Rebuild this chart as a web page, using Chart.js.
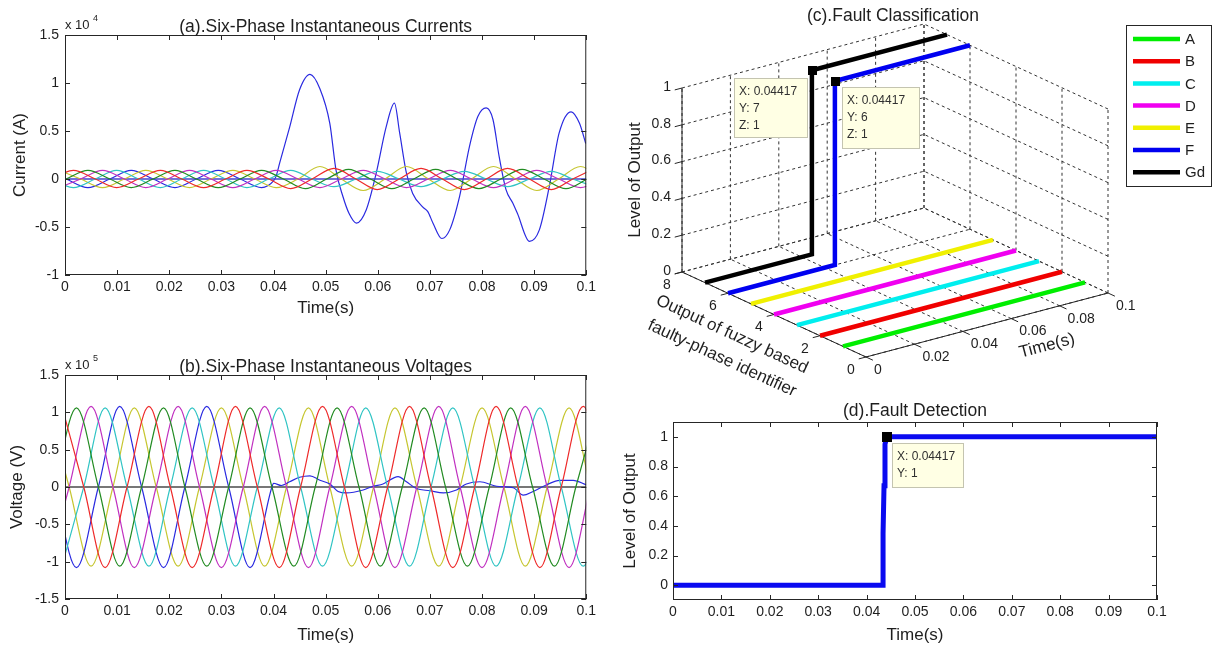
<!DOCTYPE html>
<html>
<head>
<meta charset="utf-8">
<script src="https://cdn.jsdelivr.net/npm/chart.js@4.4.1/dist/chart.umd.min.js"></script>
<style>
  body { margin: 0; background: #fff; }
  #wrap { position: relative; width: 1213px; height: 650px; overflow: hidden; }
  canvas { position: absolute; }
</style>
</head>
<body>
<div id="wrap">
  <canvas id="currentChart" width="600" height="325" style="left:0;top:0;width:600px;height:325px"></canvas>
  <canvas id="voltageChart" width="600" height="320" style="left:0;top:330px;width:600px;height:320px"></canvas>
  <canvas id="classChart" width="613" height="395" style="left:600px;top:0;width:613px;height:395px"></canvas>
  <canvas id="detectChart" width="613" height="255" style="left:600px;top:395px;width:613px;height:255px"></canvas>
</div>
<script>
var timeTicks = [0, 0.01, 0.02, 0.03, 0.04, 0.05, 0.06, 0.07, 0.08, 0.09, 0.1];
var currentTicks = [-1, -0.5, 0, 0.5, 1, 1.5];
var voltageTicks = [-1.5, -1, -0.5, 0, 0.5, 1, 1.5];
var levelTicks = [0, 0.2, 0.4, 0.6, 0.8, 1];
var levelLabels = ['0', '0.2', '0.4', '0.6', '0.8', '1'];
var classTimeTicks = [0, 0.02, 0.04, 0.06, 0.08, 0.1];
var classTimeLabels = ['0', '0.02', '0.04', '0.06', '0.08', '0.1'];
var phaseTicks = [0, 2, 4, 6, 8];
var phaseTickLabels = ['0', '2', '4', '6', '8'];

// (a) currents, x 10^4 A
var tIA = [-0.0026, 0.0016, 0.0058, 0.0099, 0.0141, 0.0183, 0.0224, 0.0266, 0.0308, 0.0349, 0.0391, 0.0433, 0.0474, 0.0516, 0.0558, 0.0599, 0.0641, 0.0683, 0.0724, 0.0766, 0.0808, 0.0849, 0.0891, 0.0933, 0.0974, 0.1016];
var iRed = [0, 0.09, 0, -0.09, 0, 0.09, 0, -0.09, 0, 0.09, 0, -0.10, 0, 0.11, 0, -0.11, 0, 0.11, 0, -0.11, 0, 0.11, 0, -0.11, 0, 0.11];
var iCyan = [0, -0.09, 0, 0.09, 0, -0.09, 0, 0.09, 0, -0.09, 0, 0.09, 0, -0.08, 0, 0.08, 0, -0.08, 0, 0.08, 0, -0.08, 0, 0.08, 0, -0.08];
var tIB = [-0.0039, 0.0002, 0.0044, 0.0086, 0.0127, 0.0169, 0.0211, 0.0252, 0.0294, 0.0336, 0.0377, 0.0419, 0.0461, 0.0502, 0.0544, 0.0586, 0.0627, 0.0669, 0.0711, 0.0752, 0.0794, 0.0836, 0.0877, 0.0919, 0.0961, 0.1002];
var iGreen = [-0.09, 0, 0.09, 0, -0.09, 0, 0.09, 0, -0.09, 0, 0.09, 0, -0.10, 0, 0.10, 0, -0.10, 0, 0.10, 0, -0.10, 0, 0.10, 0, -0.10, 0];
var tIC = [-0.0011, 0.0030, 0.0072, 0.0114, 0.0155, 0.0197, 0.0239, 0.0280, 0.0322, 0.0364, 0.0405, 0.0447, 0.0489, 0.0530, 0.0572, 0.0614, 0.0655, 0.0697, 0.0739, 0.0780, 0.0822, 0.0864, 0.0905, 0.0947, 0.0989, 0.1030];
var iMagenta = [-0.09, 0, 0.09, 0, -0.09, 0, 0.09, 0, -0.09, 0, 0.09, 0, -0.09, 0, 0.09, 0, -0.09, 0, 0.09, 0, -0.09, 0, 0.09, 0, -0.09, 0];
var iYellow = [0.09, 0, -0.09, 0, 0.09, 0, -0.09, 0, 0.09, 0, -0.09, 0, 0.13, 0, -0.12, 0, 0.13, 0, -0.12, 0, 0.13, 0, -0.12, 0, 0.13, 0];
var tIBlue = [-0.0039, 0.0002, 0.0044, 0.0086, 0.0127, 0.0169, 0.0211, 0.0252, 0.0294, 0.0336, 0.0377, 0.0400, 0.0405, 0.0412, 0.0431, 0.0450, 0.0470, 0.0489, 0.0508, 0.0520, 0.0533, 0.0545, 0.0559, 0.0578, 0.0597, 0.0616, 0.0632, 0.0642, 0.0655, 0.0667, 0.0686, 0.0696, 0.0706, 0.0723, 0.0738, 0.0757, 0.0776, 0.0792, 0.0808, 0.0821, 0.0833, 0.0846, 0.0859, 0.0868, 0.0891, 0.0910, 0.0929, 0.0948, 0.0971, 0.0987, 0.0999];
var iBlue = [0.09, 0, -0.09, 0, 0.09, 0, -0.09, 0, 0.09, 0, -0.09, -0.02, 0.03, 0.17, 0.54, 0.93, 1.09, 0.94, 0.58, 0.09, -0.18, -0.36, -0.46, -0.32, 0.06, 0.54, 0.79, 0.48, 0.06, -0.15, -0.29, -0.34, -0.46, -0.62, -0.53, -0.18, 0.34, 0.65, 0.74, 0.62, 0.23, -0.11, -0.25, -0.36, -0.65, -0.53, -0.08, 0.48, 0.70, 0.58, 0.37];
var tFlat = [0, 0.1];
var iFlat = [0, 0];

// (b) voltages, x 10^5 V
var tVA = [-0.0006, 0.0036, 0.0077, 0.0119, 0.0161, 0.0202, 0.0244, 0.0286, 0.0327, 0.0369, 0.0411, 0.0452, 0.0494, 0.0536, 0.0577, 0.0619, 0.0661, 0.0702, 0.0744, 0.0786, 0.0827, 0.0869, 0.0911, 0.0952, 0.0994, 0.1036];
var vRed = [1.08, 0, -1.08, 0, 1.08, 0, -1.08, 0, 1.08, 0, -1.08, 0, 1.08, 0, -1.08, 0, 1.08, 0, -1.08, 0, 1.08, 0, -1.08, 0, 1.08, 0];
var vCyan = [-1.06, 0, 1.06, 0, -1.06, 0, 1.06, 0, -1.06, 0, 1.06, 0, -1.06, 0, 1.06, 0, -1.06, 0, 1.06, 0, -1.06, 0, 1.06, 0, -1.06, 0];
var tVB = [-0.0061, -0.0020, 0.0022, 0.0064, 0.0105, 0.0147, 0.0189, 0.0230, 0.0272, 0.0314, 0.0355, 0.0397, 0.0439, 0.0480, 0.0522, 0.0564, 0.0605, 0.0647, 0.0689, 0.0730, 0.0772, 0.0814, 0.0855, 0.0897, 0.0939, 0.0980, 0.1022];
var vGreen = [-1.06, 0, 1.06, 0, -1.06, 0, 1.06, 0, -1.06, 0, 1.06, 0, -1.06, 0, 1.06, 0, -1.06, 0, 1.06, 0, -1.06, 0, 1.06, 0, -1.06, 0, 1.06];
var tVC = [-0.0033, 0.0008, 0.0050, 0.0092, 0.0133, 0.0175, 0.0217, 0.0258, 0.0300, 0.0342, 0.0383, 0.0425, 0.0467, 0.0508, 0.0550, 0.0592, 0.0633, 0.0675, 0.0717, 0.0758, 0.0800, 0.0842, 0.0883, 0.0925, 0.0967, 0.1008];
var vMagenta = [-1.08, 0, 1.08, 0, -1.08, 0, 1.08, 0, -1.08, 0, 1.08, 0, -1.08, 0, 1.08, 0, -1.08, 0, 1.08, 0, -1.08, 0, 1.08, 0, -1.08, 0];
var vYellow = [1.06, 0, -1.06, 0, 1.06, 0, -1.06, 0, 1.06, 0, -1.06, 0, 1.06, 0, -1.06, 0, 1.06, 0, -1.06, 0, 1.06, 0, -1.06, 0, 1.06, 0];
var tVBlue = [-0.0061, -0.0020, 0.0022, 0.0064, 0.0105, 0.0147, 0.0189, 0.0230, 0.0272, 0.0314, 0.0355, 0.0397, 0.0400, 0.0415, 0.0431, 0.0450, 0.0470, 0.0489, 0.0508, 0.0524, 0.0540, 0.0572, 0.0591, 0.0610, 0.0639, 0.0655, 0.0674, 0.0700, 0.0726, 0.0751, 0.0770, 0.0796, 0.0828, 0.0860, 0.0879, 0.0898, 0.0924, 0.0949, 0.0975, 0.1000];
var vBlue = [1.08, 0, -1.08, 0, 1.08, 0, -1.08, 0, 1.08, 0, -1.08, 0, 0.05, 0.02, 0.07, 0.13, 0.15, 0.09, 0.04, -0.06, -0.08, -0.04, 0.01, 0.04, 0.14, 0.07, -0.02, -0.05, -0.08, -0.04, 0.04, 0.07, 0.01, -0.01, -0.11, -0.06, 0.03, 0.09, 0.09, 0.03];
var tZero = [0, 0.1];
var vZero = [0, 0];

// (c) classification
var phaseNames = ['A', 'B', 'C', 'D', 'E', 'F', 'Gd'];
var phaseLevel = [1, 2, 3, 4, 5, 6, 7];
var phaseColors = ['#00ee00', '#f00000', '#00eeee', '#f000f0', '#f0f000', '#0000f0', '#000000'];
var classTime = [0, 0.04417, 0.04417, 0.1];
var outA = [0, 0, 0, 0];
var outB = [0, 0, 0, 0];
var outC = [0, 0, 0, 0];
var outD = [0, 0, 0, 0];
var outE = [0, 0, 0, 0];
var outF = [0, 0, 1, 1];
var outGd = [0, 0, 1, 1];
var classOut = [outA, outB, outC, outD, outE, outF, outGd];

// (d) detection
var detTime = [0, 0.0434, 0.0434, 0.0436, 0.0438, 0.04417, 0.1];
var detOut = [0, 0, 0.35, 0.67, 0.95, 1, 1];
var faultTime = 0.04417;

var FONT = '"Liberation Sans", Arial, sans-serif';
Chart.defaults.font.family = FONT;
Chart.defaults.color = '#1e1e1e';

function fmt(v) { return String(+Number(v).toFixed(4)); }

function series(t, v, color, width, smooth) {
    return {
        data: t.map(function (x, k) { return {x: x, y: v[k]}; }),
        borderColor: color,
        borderWidth: width,
        pointRadius: 0,
        fill: false,
        cubicInterpolationMode: smooth ? 'monotone' : 'default',
        tension: 0
    };
}

function tipBox(ctx, left, top, w, h, lines) {
    ctx.fillStyle = '#ffffe4';
    ctx.fillRect(left, top, w, h);
    ctx.strokeStyle = '#c4c4b0';
    ctx.lineWidth = 1;
    ctx.setLineDash([]);
    ctx.strokeRect(left + 0.5, top + 0.5, w - 1, h - 1);
    ctx.fillStyle = '#303030';
    ctx.font = '12px ' + FONT;
    ctx.textAlign = 'left';
    ctx.textBaseline = 'middle';
    lines.forEach(function (s, k) { ctx.fillText(s, left + 5, top + 14 + k * 17); });
}

var frame = {
    id: 'frame',
    afterDraw: function (chart) {
        var o = chart.options.plugins.frame;
        var ctx = chart.ctx, a = chart.chartArea;
        var xs = chart.scales.x, ys = chart.scales.y;
        ctx.save();
        ctx.strokeStyle = '#262626';
        ctx.lineWidth = 1;
        ctx.strokeRect(a.left + 0.5, a.top + 0.5, a.right - a.left - 1, a.bottom - a.top - 1);
        ctx.beginPath();
        xs.ticks.forEach(function (t) {
            var x = Math.round(xs.getPixelForValue(t.value)) + 0.5;
            ctx.moveTo(x, a.bottom); ctx.lineTo(x, a.bottom - 5);
            ctx.moveTo(x, a.top); ctx.lineTo(x, a.top + 5);
        });
        ys.ticks.forEach(function (t) {
            var y = Math.round(ys.getPixelForValue(t.value)) + 0.5;
            ctx.moveTo(a.left, y); ctx.lineTo(a.left + 5, y);
            ctx.moveTo(a.right, y); ctx.lineTo(a.right - 5, y);
        });
        ctx.stroke();

        ctx.fillStyle = '#1e1e1e';
        ctx.font = '17.5px ' + FONT;
        ctx.textAlign = 'center';
        ctx.textBaseline = 'alphabetic';
        ctx.fillText(o.title, (a.left + a.right) / 2, a.top - o.titleGap);
        if (o.exponent) {
            ctx.textAlign = 'left';
            ctx.font = '13px ' + FONT;
            ctx.fillText('x 10', a.left, a.top - 6);
            ctx.font = '9px ' + FONT;
            ctx.fillText(o.exponent, a.left + 28, a.top - 14);
        }
        if (o.tip) {
            var mx = xs.getPixelForValue(o.tip.x), my = ys.getPixelForValue(o.tip.y);
            ctx.fillStyle = '#000';
            ctx.fillRect(Math.round(mx) - 5, Math.round(my) - 5, 10, 10);
            tipBox(ctx, Math.round(mx) + 5, Math.round(my) + 6, 72, 45, ['X: ' + o.tip.x, 'Y: ' + o.tip.y]);
        }
        ctx.restore();
    }
};

function timePanel(id, datasets, o) {
    return new Chart(document.getElementById(id), {
        type: 'line',
        data: {datasets: datasets},
        options: {
            responsive: false,
            animation: false,
            devicePixelRatio: 1,
            events: [],
            layout: {padding: o.padding},
            plugins: {legend: {display: false}, tooltip: {enabled: false}, frame: o.frame},
            scales: {
                x: {
                    type: 'linear', min: 0, max: 0.1,
                    afterBuildTicks: function (s) { s.ticks = timeTicks.map(function (v) { return {value: v}; }); },
                    afterFit: function (s) { s.height = o.xHeight; },
                    grid: {display: false, drawTicks: false},
                    border: {display: false},
                    ticks: {padding: 4, maxRotation: 0, autoSkip: false, font: {size: 14}, callback: fmt},
                    title: {display: true, text: 'Time(s)', font: {size: 17}, padding: {top: 0, bottom: o.xTitlePad}}
                },
                y: {
                    type: 'linear', min: o.yMin, max: o.yMax,
                    afterBuildTicks: function (s) { s.ticks = o.yTicks.map(function (v) { return {value: v}; }); },
                    afterFit: function (s) { s.width = o.yWidth; },
                    grid: {display: false, drawTicks: false},
                    border: {display: false},
                    ticks: {padding: o.yTickPad, autoSkip: false, font: {size: 14}, callback: fmt},
                    title: {display: true, text: o.yTitle, font: {size: 17}, padding: {top: o.yTitlePad, bottom: 0}}
                }
            }
        },
        plugins: [frame]
    });
}

var RED = '#ee2a2a', GREEN = '#228b22', CYAN = '#30c4c4', MAGENTA = '#c030c0', YELLOW = '#c6c630', BLUE = '#2a2ae0';

timePanel('currentChart', [
    series(tIA, iRed, RED, 1.2, true),
    series(tIB, iGreen, GREEN, 1.2, true),
    series(tIC, iMagenta, MAGENTA, 1.2, true),
    series(tIA, iCyan, CYAN, 1.2, true),
    series(tIC, iYellow, YELLOW, 1.2, true),
    series(tFlat, iFlat, '#4444cc', 1.5, false),
    series(tIBlue, iBlue, BLUE, 1.2, true)
], {
    padding: {top: 35, right: 13, left: 0, bottom: 0},
    xHeight: 50, xTitlePad: 6, yWidth: 65, yTickPad: 6, yTitlePad: 10,
    yMin: -1, yMax: 1.5, yTicks: currentTicks, yTitle: 'Current (A)',
    frame: {title: '(a).Six-Phase Instantaneous Currents', titleGap: 3, exponent: '4'}
});

timePanel('voltageChart', [
    series(tVA, vRed, RED, 1.2, true),
    series(tVB, vGreen, GREEN, 1.2, true),
    series(tVC, vMagenta, MAGENTA, 1.2, true),
    series(tVA, vCyan, CYAN, 1.2, true),
    series(tVBlue, vBlue, BLUE, 1.2, true),
    series(tVC, vYellow, YELLOW, 1.2, true),
    series(tZero, vZero, '#777777', 2, false)
], {
    padding: {top: 45, right: 13, left: 0, bottom: 0},
    xHeight: 51, xTitlePad: 4, yWidth: 65, yTickPad: 6, yTitlePad: 7,
    yMin: -1.5, yMax: 1.5, yTicks: voltageTicks, yTitle: 'Voltage (V)',
    frame: {title: '(b).Six-Phase Instantaneous Voltages', titleGap: 3, exponent: '5'}
});

timePanel('detectChart', [
    series(detTime, detOut, '#0a0af0', 5, false)
], {
    padding: {top: 27, right: 56, left: 0, bottom: 0},
    xHeight: 50, xTitlePad: 4, yWidth: 73, yTickPad: 5, yTitlePad: 20,
    yMin: -0.1, yMax: 1.1, yTicks: levelTicks, yTitle: 'Level of Output',
    frame: {title: '(d).Fault Detection', titleGap: 6, tip: {x: faultTime, y: 1}}
});

// (c) 3-D view: time, phase output, level -> flat plot coordinates
function project(t, level, out) {
    return {x: t * 2420 - level * 23, y: t * 640 + level * 10.625 + out * 184};
}

var box3d = {
    id: 'box3d',
    beforeDatasetsDraw: function (chart) {
        var ctx = chart.ctx, xs = chart.scales.x, ys = chart.scales.y, a = chart.chartArea;
        function P(t, l, z) { var q = project(t, l, z); return {x: xs.getPixelForValue(q.x), y: ys.getPixelForValue(q.y)}; }
        function seg(p, q) { ctx.moveTo(p.x, p.y); ctx.lineTo(q.x, q.y); }
        ctx.save();
        ctx.lineWidth = 1;
        ctx.strokeStyle = '#333';
        ctx.setLineDash([3, 3]);
        ctx.beginPath();
        classTimeTicks.forEach(function (t) { seg(P(t, 8, 0), P(t, 8, 1)); seg(P(t, 0, 0), P(t, 8, 0)); });
        phaseTicks.forEach(function (l) { seg(P(0.1, l, 0), P(0.1, l, 1)); seg(P(0, l, 0), P(0.1, l, 0)); });
        levelTicks.forEach(function (z) { seg(P(0, 8, z), P(0.1, 8, z)); seg(P(0.1, 0, z), P(0.1, 8, z)); });
        ctx.stroke();

        ctx.setLineDash([]);
        ctx.strokeStyle = '#262626';
        ctx.beginPath();
        seg(P(0, 8, 0), P(0, 8, 1));
        seg(P(0, 8, 0), P(0, 0, 0));
        seg(P(0, 0, 0), P(0.1, 0, 0));
        levelTicks.forEach(function (z) { seg(P(0, 8, z), P(-0.003, 8, z)); });
        phaseTicks.forEach(function (l) { seg(P(0, l, 0), P(-0.003, l, 0)); });
        classTimeTicks.forEach(function (t) { seg(P(t, 0, 0), P(t, -0.3, 0)); });
        ctx.stroke();

        ctx.fillStyle = '#1e1e1e';
        ctx.font = '14px ' + FONT;
        ctx.textBaseline = 'middle';
        ctx.textAlign = 'right';
        levelTicks.forEach(function (z, k) { var p = P(0, 8, z); ctx.fillText(levelLabels[k], p.x - 11, p.y - 1); });
        ctx.textAlign = 'center';
        phaseTicks.forEach(function (l, k) { var p = P(0, l, 0); ctx.fillText(phaseTickLabels[k], p.x - 15, p.y + 13); });
        ctx.textAlign = 'left';
        classTimeTicks.forEach(function (t, k) { var p = P(t, 0, 0); ctx.fillText(classTimeLabels[k], p.x + 8, p.y + 13); });

        ctx.font = '17px ' + FONT;
        ctx.textAlign = 'center';
        var zc = P(0, 8, 0.5);
        ctx.save(); ctx.translate(zc.x - 47, zc.y); ctx.rotate(-Math.PI / 2); ctx.fillText('Level of Output', 0, 0); ctx.restore();
        var y0 = P(0, 0, 0), y8 = P(0, 8, 0), yc = P(0, 4, 0);
        var angY = Math.atan2(y0.y - y8.y, y0.x - y8.x);
        ctx.save(); ctx.translate(yc.x - 42, yc.y + 20); ctx.rotate(angY); ctx.fillText('Output of fuzzy based', 0, 0); ctx.restore();
        ctx.save(); ctx.translate(yc.x - 52, yc.y + 44); ctx.rotate(angY); ctx.fillText('faulty-phase identifier', 0, 0); ctx.restore();
        var x1 = P(0.1, 0, 0), xc = P(0.05, 0, 0);
        var angX = Math.atan2(x1.y - y0.y, x1.x - y0.x);
        ctx.save(); ctx.translate(xc.x + 60, xc.y + 21); ctx.rotate(angX); ctx.fillText('Time(s)', 0, 0); ctx.restore();

        ctx.font = '17.5px ' + FONT;
        ctx.textBaseline = 'alphabetic';
        ctx.fillText('(c).Fault Classification', a.left + 293, 21);
        ctx.restore();
    },
    afterDatasetsDraw: function (chart) {
        var ctx = chart.ctx, xs = chart.scales.x, ys = chart.scales.y, a = chart.chartArea;
        function P(t, l, z) { var q = project(t, l, z); return {x: xs.getPixelForValue(q.x), y: ys.getPixelForValue(q.y)}; }
        ctx.save();
        var m7 = P(faultTime, 7, 1), m6 = P(faultTime, 6, 1);
        ctx.fillStyle = '#000';
        ctx.fillRect(Math.round(m7.x) - 4, Math.round(m7.y) - 4, 9, 9);
        ctx.fillRect(Math.round(m6.x) - 4, Math.round(m6.y) - 4, 9, 9);
        tipBox(ctx, Math.round(m7.x) - 78, Math.round(m7.y) + 8, 74, 60, ['X: ' + faultTime, 'Y: 7', 'Z: 1']);
        tipBox(ctx, Math.round(m6.x) + 7, Math.round(m6.y) + 6, 78, 62, ['X: ' + faultTime, 'Y: 6', 'Z: 1']);

        var lx = a.left + 526, ly = 25;
        ctx.fillStyle = '#fff';
        ctx.fillRect(lx, ly, 86, 162);
        ctx.strokeStyle = '#262626';
        ctx.lineWidth = 1;
        ctx.strokeRect(lx + 0.5, ly + 0.5, 85, 161);
        ctx.font = '15px ' + FONT;
        ctx.textAlign = 'left';
        ctx.textBaseline = 'middle';
        chart.data.datasets.forEach(function (ds, k) {
            var y = ly + 14 + k * 22.2;
            ctx.strokeStyle = ds.borderColor;
            ctx.lineWidth = 4.5;
            ctx.beginPath();
            ctx.moveTo(lx + 7, y); ctx.lineTo(lx + 54, y);
            ctx.stroke();
            ctx.fillStyle = '#1e1e1e';
            ctx.fillText(ds.label, lx + 59, y + 1);
        });
        ctx.restore();
    }
};

new Chart(document.getElementById('classChart'), {
    type: 'scatter',
    data: {
        datasets: phaseNames.map(function (name, i) {
            return {
                label: name,
                data: classTime.map(function (t, k) { return project(t, phaseLevel[i], classOut[i][k]); }),
                borderColor: phaseColors[i],
                backgroundColor: phaseColors[i],
                borderWidth: 4.5,
                showLine: true,
                pointRadius: 0,
                tension: 0,
                clip: false
            };
        })
    },
    options: {
        responsive: false,
        animation: false,
        devicePixelRatio: 1,
        events: [],
        layout: {padding: 0},
        plugins: {legend: {display: false}, tooltip: {enabled: false}},
        scales: {
            x: {type: 'linear', display: false, min: -266, max: 347},
            y: {type: 'linear', display: false, min: -38, max: 357}
        }
    },
    plugins: [box3d]
});
</script>
</body>
</html>
